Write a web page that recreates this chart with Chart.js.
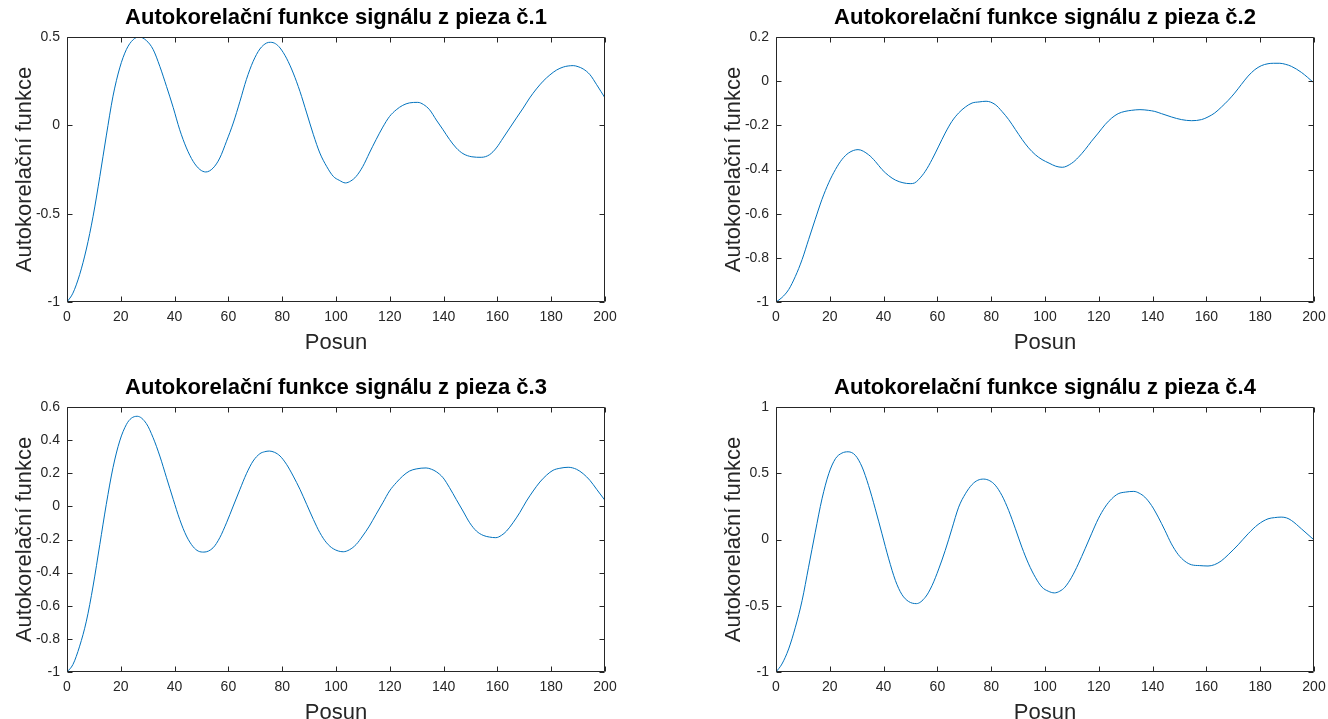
<!DOCTYPE html>
<html>
<head>
<meta charset="utf-8">
<script src="https://cdn.jsdelivr.net/npm/chart.js@4/dist/chart.umd.min.js"></script>
<style>
  html, body { margin: 0; padding: 0; background: #fff; overflow: hidden; width: 1328px; height: 719px; }
  canvas { position: absolute; }
</style>
</head>
<body>
<canvas id="c1" width="672" height="360" style="left:0px;top:0px"></canvas>
<canvas id="c2" width="672" height="360" style="left:709px;top:0px"></canvas>
<canvas id="c3" width="672" height="360" style="left:0px;top:370px"></canvas>
<canvas id="c4" width="672" height="360" style="left:709px;top:370px"></canvas>
<script>
// posun (lag) and autocorrelation values
const lag1 = [0, 2.2, 4.7, 7.2, 9.7, 12.2, 14.6, 17.1, 19.6, 22.1, 24.6, 26.8, 29.5, 32, 34.5, 37, 39.5, 41.9, 44.4, 46.9, 49.4, 51.6, 54.3, 56.8, 59.3, 61.8, 64.3, 66.7, 69.2, 71.7, 74.2, 75.7, 77.5, 79.2, 81.6, 84.1, 86.6, 89.1, 91.6, 94, 96.5, 99, 101.2, 103.5, 105.5, 107.5, 110, 112.4, 114.9, 117.4, 119.9, 122.4, 124.8, 127.3, 130.4, 132.5, 134.8, 137.3, 139.8, 142.2, 144.7, 147.2, 150.5, 154, 157.1, 159.6, 162.1, 164.6, 167.1, 169.6, 172, 174.5, 177, 179.5, 182, 184.5, 186.3, 188.2, 190, 191.9, 194.4, 196.9, 200];
const acf1 = [-1, -0.95, -0.845, -0.7, -0.515, -0.29, -0.06, 0.165, 0.325, 0.43, 0.485, 0.5, 0.48, 0.43, 0.334, 0.22, 0.1, -0.025, -0.128, -0.204, -0.25, -0.264, -0.242, -0.185, -0.09, 0.013, 0.136, 0.26, 0.362, 0.432, 0.466, 0.47, 0.462, 0.438, 0.38, 0.296, 0.192, 0.07, -0.053, -0.157, -0.232, -0.289, -0.311, -0.326, -0.315, -0.289, -0.232, -0.157, -0.081, -0.01, 0.05, 0.088, 0.113, 0.127, 0.13, 0.118, 0.088, 0.03, -0.025, -0.08, -0.128, -0.16, -0.178, -0.181, -0.166, -0.128, -0.072, -0.015, 0.042, 0.098, 0.155, 0.206, 0.25, 0.285, 0.313, 0.33, 0.336, 0.338, 0.332, 0.319, 0.287, 0.23, 0.155];

const lag2 = [0, 2.2, 4.7, 7.2, 9.7, 12.1, 14.6, 17.1, 19.6, 22.1, 24.5, 27, 30.5, 34.4, 36.9, 39.4, 41.9, 44.4, 47.2, 49.9, 51.5, 53, 55.5, 58, 60.5, 62.9, 65.4, 67.9, 70.4, 72.9, 75.5, 78.1, 81.5, 84, 86.5, 89, 91.5, 93.9, 96.4, 98.9, 101.5, 104, 106.4, 109.9, 112.4, 114.9, 117.3, 119.8, 122.3, 124.8, 127.2, 129.7, 132.2, 135.3, 138.4, 140.8, 143.3, 147, 150.7, 154.5, 158.2, 160.6, 163.1, 165.6, 168.1, 170.5, 173, 175.5, 178, 180.4, 182.9, 185, 187.3, 189.5, 191.6, 195.3, 200];
const acf2 = [-1, -0.98, -0.944, -0.884, -0.808, -0.718, -0.625, -0.535, -0.46, -0.4, -0.355, -0.325, -0.31, -0.333, -0.363, -0.4, -0.428, -0.448, -0.46, -0.464, -0.461, -0.446, -0.408, -0.355, -0.294, -0.235, -0.182, -0.144, -0.117, -0.099, -0.094, -0.091, -0.106, -0.137, -0.174, -0.219, -0.264, -0.302, -0.333, -0.355, -0.371, -0.385, -0.39, -0.372, -0.345, -0.31, -0.272, -0.235, -0.197, -0.167, -0.147, -0.137, -0.132, -0.129, -0.132, -0.137, -0.147, -0.162, -0.174, -0.179, -0.174, -0.162, -0.144, -0.117, -0.087, -0.054, -0.015, 0.023, 0.052, 0.07, 0.079, 0.081, 0.081, 0.076, 0.067, 0.04, -0.008];

const lag3 = [0, 2.2, 4.7, 7.2, 9.7, 12.2, 14.6, 17.1, 19.6, 22.1, 23.9, 26.1, 29.5, 32, 34.5, 37, 39.5, 41.9, 44.4, 46.9, 48.8, 50.9, 54.3, 56.8, 59.3, 61.8, 64.3, 66.7, 69.2, 71.7, 73.5, 75.2, 77.2, 79.2, 81.6, 84.1, 86.6, 89.1, 91.6, 94, 96.5, 99, 102.7, 105, 107.5, 109.9, 112.4, 114.9, 117.4, 119.9, 122.4, 124.8, 127.3, 129.8, 133.5, 135.5, 137.3, 139.8, 142.2, 144.7, 147.2, 149.7, 152.2, 154.7, 157, 159.4, 161.5, 163.4, 165.8, 168.3, 170.8, 173.3, 175.8, 178.3, 180.7, 183.2, 186.3, 189.4, 191.9, 194.4, 196.9, 200];
const acf3 = [-1, -0.955, -0.844, -0.693, -0.481, -0.23, 0.012, 0.234, 0.395, 0.495, 0.532, 0.544, 0.5, 0.415, 0.304, 0.173, 0.042, -0.079, -0.179, -0.244, -0.27, -0.276, -0.25, -0.189, -0.099, 0.002, 0.103, 0.197, 0.274, 0.318, 0.33, 0.334, 0.326, 0.304, 0.254, 0.183, 0.103, 0.012, -0.079, -0.159, -0.22, -0.256, -0.274, -0.262, -0.23, -0.179, -0.119, -0.048, 0.022, 0.093, 0.143, 0.183, 0.213, 0.226, 0.232, 0.224, 0.209, 0.173, 0.113, 0.042, -0.028, -0.099, -0.149, -0.175, -0.185, -0.189, -0.175, -0.149, -0.099, -0.038, 0.032, 0.093, 0.147, 0.189, 0.218, 0.23, 0.236, 0.224, 0.197, 0.157, 0.103, 0.036];

const lag4 = [0, 2.2, 4.7, 7.2, 9.7, 12.1, 14.6, 17.1, 19.6, 22.1, 24.5, 26.8, 29.5, 32, 34.4, 36.9, 39.4, 41.9, 44.4, 46.8, 49.3, 52.2, 55.5, 58, 60.5, 62.9, 65.4, 67.9, 70.4, 72.9, 75, 77.2, 79.5, 81.5, 84, 86.5, 89, 91.4, 93.9, 96.4, 98.9, 101.2, 103.5, 105.5, 107.4, 109.9, 112.4, 114.9, 117.3, 119.8, 122.3, 124.8, 127.2, 130, 133, 135, 137.1, 139.6, 142.1, 144.6, 147, 149.5, 152, 154.5, 157.5, 160.6, 163, 165.5, 168.1, 171.8, 175.5, 179.2, 182.9, 185.3, 187.8, 189.8, 191.6, 195.3, 200];
const acf4 = [-1, -0.94, -0.826, -0.662, -0.461, -0.209, 0.055, 0.307, 0.496, 0.61, 0.652, 0.662, 0.635, 0.547, 0.408, 0.232, 0.043, -0.146, -0.31, -0.415, -0.468, -0.484, -0.436, -0.348, -0.222, -0.083, 0.081, 0.244, 0.345, 0.415, 0.447, 0.456, 0.443, 0.41, 0.332, 0.219, 0.081, -0.058, -0.184, -0.285, -0.36, -0.39, -0.403, -0.39, -0.36, -0.285, -0.184, -0.07, 0.043, 0.156, 0.244, 0.307, 0.345, 0.358, 0.363, 0.35, 0.32, 0.257, 0.169, 0.068, -0.033, -0.113, -0.164, -0.191, -0.197, -0.2, -0.19, -0.162, -0.115, -0.04, 0.043, 0.113, 0.156, 0.165, 0.169, 0.163, 0.144, 0.081, -0.003];

// tick labels
const xTicks = [0, 20, 40, 60, 80, 100, 120, 140, 160, 180, 200];
const yTicks1 = [-1, -0.5, 0, 0.5];
const yTicks2 = [-1, -0.8, -0.6, -0.4, -0.2, 0, 0.2];
const yTicks3 = [-1, -0.8, -0.6, -0.4, -0.2, 0, 0.2, 0.4, 0.6];
const yTicks4 = [-1, -0.5, 0, 0.5, 1];

const titles = [
    "Autokorelační funkce signálu z pieza č.1",
    "Autokorelační funkce signálu z pieza č.2",
    "Autokorelační funkce signálu z pieza č.3",
    "Autokorelační funkce signálu z pieza č.4"
];

Chart.defaults.font.family = "'Liberation Sans', Arial, Helvetica, sans-serif";
Chart.defaults.color = "#262626";

// matlab style box with ticks pointing inwards
const boxPlugin = {
    id: "matlabBox",
    afterDatasetsDraw(chart) {
        const ctx = chart.ctx;
        const a = chart.chartArea;
        const l = Math.round(a.left) + 0.5, r = Math.round(a.right) - 0.5;
        const t = Math.round(a.top) + 0.5, b = Math.round(a.bottom) - 0.5;
        ctx.save();
        ctx.strokeStyle = "#262626";
        ctx.lineWidth = 1;
        ctx.beginPath();
        ctx.rect(l, t, r - l, b - t);
        chart.scales.x.ticks.forEach(tk => {
            const px = Math.round(chart.scales.x.getPixelForValue(tk.value)) + 0.5;
            ctx.moveTo(px, b); ctx.lineTo(px, b - 5);
            ctx.moveTo(px, t); ctx.lineTo(px, t + 5);
        });
        chart.scales.y.ticks.forEach(tk => {
            const py = Math.round(chart.scales.y.getPixelForValue(tk.value)) + 0.5;
            ctx.moveTo(l, py); ctx.lineTo(l + 5, py);
            ctx.moveTo(r, py); ctx.lineTo(r - 5, py);
        });
        ctx.stroke();
        ctx.restore();
    }
};

function makeChart(id, lags, values, yTicks, title) {
    const ctx = document.getElementById(id).getContext("2d");
    return new Chart(ctx, {
        type: "line",
        data: {
            datasets: [{
                data: lags.map((v, i) => ({ x: v, y: values[i] })),
                borderColor: "#0072BD",
                borderWidth: 1,
                pointRadius: 0,
                cubicInterpolationMode: "monotone",
                fill: false
            }]
        },
        options: {
            responsive: false,
            animation: false,
            devicePixelRatio: 1,
            layout: { padding: { left: 0, right: 67, top: 0, bottom: 0 } },
            plugins: {
                legend: { display: false },
                tooltip: { enabled: false },
                title: {
                    display: true,
                    text: title,
                    fullSize: false,
                    color: "#000",
                    font: { size: 22, weight: "bold" },
                    padding: { top: 5, bottom: 5.6 }
                }
            },
            scales: {
                x: {
                    type: "linear",
                    min: 0,
                    max: 200,
                    afterBuildTicks: s => { s.ticks = xTicks.map(v => ({ value: v })); },
                    afterFit: s => { s.height = 58; },
                    grid: { display: false, drawTicks: false },
                    border: { display: false },
                    ticks: { font: { size: 14 }, padding: 7, maxRotation: 0, callback: v => String(v) },
                    title: { display: true, text: "Posun", font: { size: 22 }, padding: { top: 0, bottom: 4 } }
                },
                y: {
                    type: "linear",
                    min: yTicks[0],
                    max: yTicks[yTicks.length - 1],
                    afterBuildTicks: s => { s.ticks = yTicks.map(v => ({ value: v })); },
                    afterFit: s => { s.width = 67; },
                    grid: { display: false, drawTicks: false },
                    border: { display: false },
                    ticks: { font: { size: 14 }, padding: 7, callback: v => String(v) },
                    title: { display: true, text: "Autokorelační funkce", font: { size: 22 }, padding: { top: 12, bottom: 0 } }
                }
            }
        },
        plugins: [boxPlugin]
    });
}

makeChart("c1", lag1, acf1, yTicks1, titles[0]);
makeChart("c2", lag2, acf2, yTicks2, titles[1]);
makeChart("c3", lag3, acf3, yTicks3, titles[2]);
makeChart("c4", lag4, acf4, yTicks4, titles[3]);
</script>
</body>
</html>
